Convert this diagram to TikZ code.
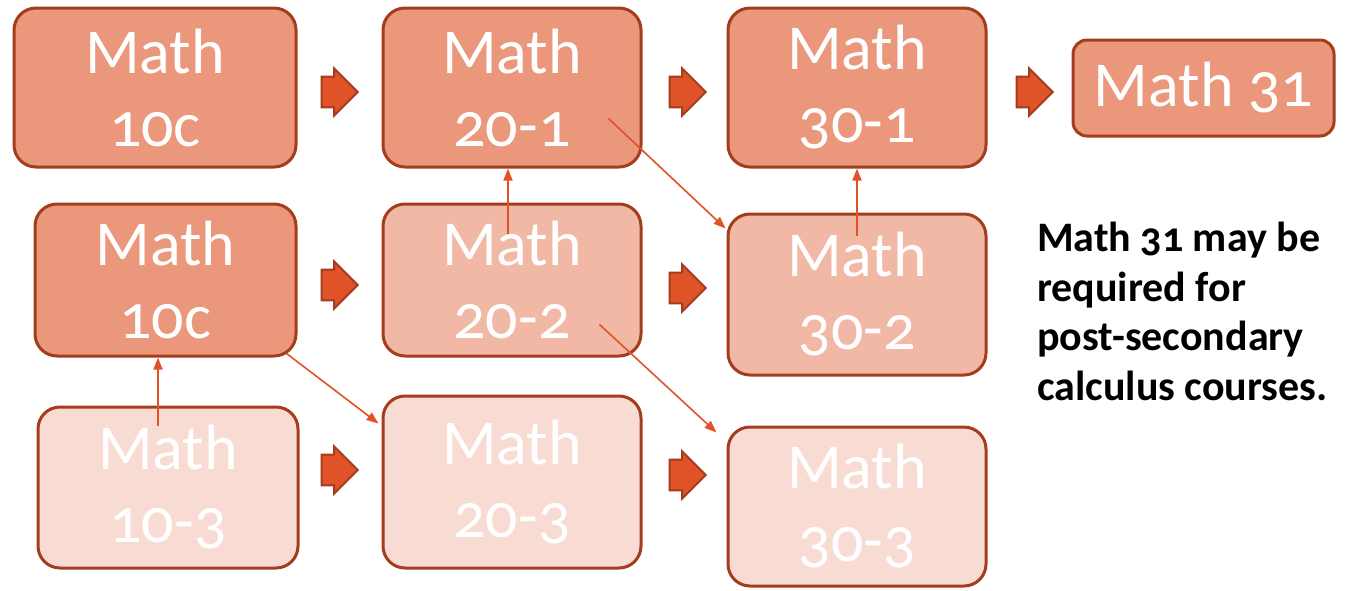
\documentclass[tikz,border=0pt]{standalone}
\usepackage{xcolor}
\usepackage{fontspec}
\setmainfont[Numbers=OldStyle]{Carlito}
\usepackage{tikz}
\usetikzlibrary{shapes,arrows.meta,positioning,calc}

\definecolor{boxdark}{HTML}{EA977C}
\definecolor{boxmid}{HTML}{F2B8A6}
\definecolor{boxlight}{HTML}{F8DCD3}
\definecolor{boxline}{HTML}{A33D1E}
\definecolor{arrowfill}{HTML}{E05228}

\tikzset{
    course/.style={draw=boxline, line width=3pt, rounded corners=22pt, inner sep=0pt,
        text=white, align=center, font=\fontsize{64}{73}\selectfont},
    nextstep/.style={shape=single arrow, draw=boxline, fill=arrowfill, line width=2pt,
        inner xsep=0pt, inner ysep=12.5pt, minimum height=36pt, minimum width=47pt},
    link/.style={draw=arrowfill, line width=1.6pt, -{Triangle[length=12pt,width=9pt]}}
}

\begin{document}
\begin{tikzpicture}[x=1pt,y=-1pt]
    \useasboundingbox[fill=white] (0,0) rectangle (1350,590);

    % Top row - the -1 stream
    \node[course, fill=boxdark, minimum width=282pt, minimum height=159pt] (a1) at (155,87.5) {Math\\10c};
    \node[course, fill=boxdark, minimum width=258pt, minimum height=159pt] (a2) at (512,87.5) {Math\\20-1};
    \node[course, fill=boxdark, minimum width=258pt, minimum height=159pt] (a3) at (857,87.5) {Math\\30-1};
    \node[course, fill=boxdark, minimum width=261pt, minimum height=96pt, rounded corners=14pt] (a4) at (1203.5,88) {Math 31};

    % Middle row - the -2 stream
    \node[course, fill=boxdark, minimum width=261pt, minimum height=152pt] (b1) at (165.5,280) {Math\\10c};
    \node[course, fill=boxmid, minimum width=258pt, minimum height=152pt] (b2) at (512,280) {Math\\20-2};
    \node[course, fill=boxmid, minimum width=258pt, minimum height=161pt] (b3) at (857,294.5) {Math\\30-2};

    % Bottom row - the -3 stream
    \node[course, fill=boxlight, minimum width=260pt, minimum height=161pt] (c1) at (168,487.5) {Math\\10-3};
    \node[course, fill=boxlight, minimum width=258pt, minimum height=172pt] (c2) at (512,482) {Math\\20-3};
    \node[course, fill=boxlight, minimum width=258pt, minimum height=159pt] (c3) at (857,506.5) {Math\\30-3};

    % Block arrows between grades
    \node[nextstep] (s1) at (332,92) {};
    \node[nextstep] (s2) at (680,92) {};
    \node[nextstep] (s3) at (1027,92) {};
    \node[nextstep] (s4) at (332,285) {};
    \node[nextstep] (s5) at (680,288) {};
    \node[nextstep] (s6) at (332,470) {};
    \node[nextstep] (s7) at (680,475) {};

    % Transfers between streams
    \coordinate (c1up) at ([xshift=-10pt,yshift=-20pt]c1.north);
    \coordinate (b2up) at ([xshift=-4pt,yshift=-31pt]b2.north);
    \coordinate (b3up) at ([yshift=-23pt]b3.north);
    \draw[link] (c1up) -- (c1up |- b1.south);
    \draw[link] (b2up) -- (b2up |- a2.south);
    \draw[link] (b3up) -- (b3up |- a3.south);

    \coordinate (a2down) at ([xshift=-34pt,yshift=-31pt]a2.east);
    \coordinate (b1down) at ([xshift=-11pt,yshift=4pt]b1.south east);
    \coordinate (b2down) at ([xshift=-43pt,yshift=33pt]b2.south east);
    \draw[link] (a2down) -- ([xshift=-1pt,yshift=-16pt]b3.north west);
    \draw[link] (b1down) -- ([xshift=-3pt,yshift=-29pt]c2.north west);
    \draw[link] (b2down) -- ([xshift=-10pt,yshift=-7pt]c3.north west);

    % Side note
    \node[anchor=north west, align=left, inner sep=0pt, font=\fontsize{42}{49.5}\selectfont\bfseries] (note) at (1037,222) {Math 31 may be\\required for\\post-secondary\\calculus courses.};

\end{tikzpicture}
\end{document}
